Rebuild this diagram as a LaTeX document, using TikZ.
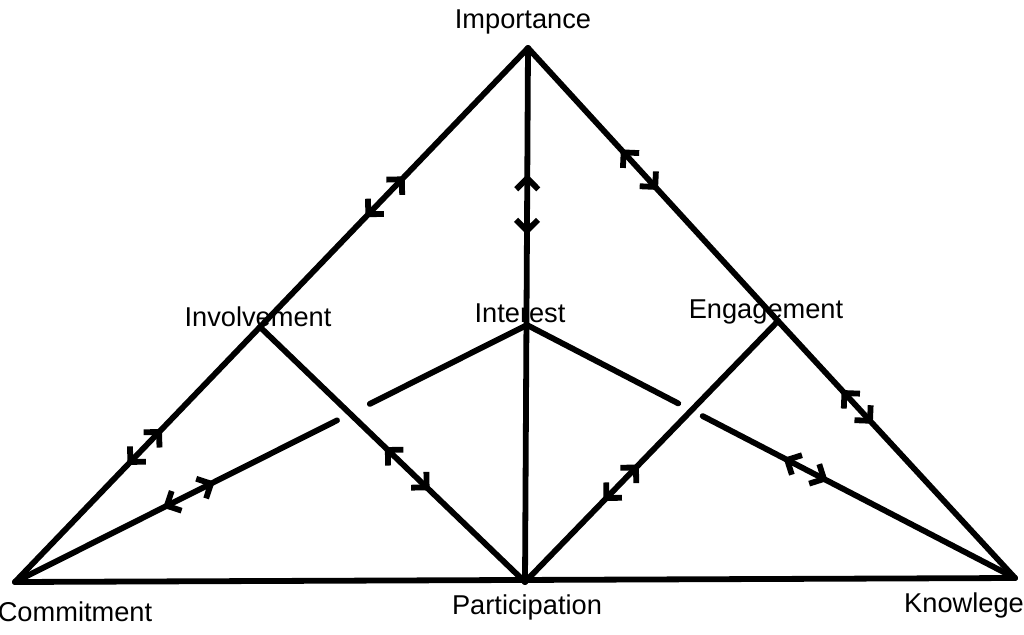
\documentclass[tikz,border=0pt]{standalone}
\usepackage{fontspec}
\setmainfont{Liberation Sans}
\usetikzlibrary{arrows.meta,decorations.markings}

\begin{document}
\begin{tikzpicture}[
  x=0.02cm, y=-0.02cm,
  >={Straight Barb[length=2.2mm,width=4.4mm]},
  lbl/.style={font=\fontsize{15.5}{18}\selectfont, inner sep=0pt},
  edge/.style={line width=3.3pt, line cap=round},
  twoway/.style 2 args={postaction={decorate}, decoration={markings, mark=at position #1 with {\arrow{<}}, mark=at position #2 with {\arrow{>}}}},
]
\useasboundingbox (0,0) rectangle (1024,635);

% Corners
\coordinate (imp) at (528,48);
\coordinate (inv) at (260,327);
\coordinate (int) at (527,325);
\coordinate (eng) at (778,321);
\coordinate (com) at (15,582);
\coordinate (par) at (525,582);
\coordinate (kno) at (1015,578);

% Breaks where a line passes under
\path (com) -- coordinate[pos=0.629] (gapa) coordinate[pos=0.693] (gapb) (int);
\path (int) -- coordinate[pos=0.31] (gapc) coordinate[pos=0.36] (gapd) (kno);

% Lines
\draw[edge, twoway={0.51}{0.60}] (com) -- (inv);
\draw[edge, twoway={0.44}{0.54}] (inv) -- (imp);
\draw[edge, twoway={0.27}{0.35}] (imp) -- (par);
\draw[edge, twoway={0.42}{0.52}] (imp) -- (eng);
\draw[edge, twoway={0.32}{0.40}] (eng) -- (kno);
\draw[edge, twoway={0.51}{0.62}] (com) -- (gapa);
\draw[edge] (gapb) -- (int);
\draw[edge, twoway={0.52}{0.64}] (inv) -- (par);
\draw[edge] (int) -- (gapc);
\draw[edge, twoway={0.31}{0.40}] (gapd) -- (kno);
\draw[edge, twoway={0.36}{0.45}] (par) -- (eng);
\draw[edge] (com) -- (kno);

% Labels
\node[lbl] (limp) at (523,22) {Importance};
\node[lbl] (linv) at (258,317) {Involvement};
\node[lbl] (lint) at (520,313) {Interest};
\node[lbl] (leng) at (766,312) {Engagement};
\node[lbl] (lcom) at (75,612) {Commitment};
\node[lbl] (lpar) at (527,607) {Participation};
\node[lbl] (lkno) at (964,605) {Knowlege};
\end{tikzpicture}
\end{document}
